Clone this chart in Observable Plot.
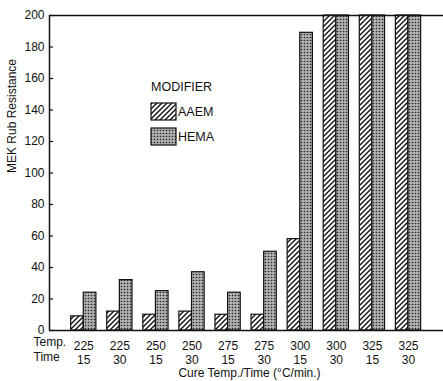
<!DOCTYPE html>
<html>
<head>
<meta charset="utf-8">
<script src="https://cdn.jsdelivr.net/npm/d3@7"></script>
<script src="https://cdn.jsdelivr.net/npm/@observablehq/plot@0.6"></script>
<style>
  html, body { margin: 0; padding: 0; background: #fff; }
  #chart { width: 443px; height: 381px; }
  svg { font-family: "Liberation Sans", Arial, sans-serif; }
</style>
</head>
<body>
<div id="chart"></div>
<script>
const temps = ["225", "225", "250", "250", "275", "275", "300", "300", "325", "325"];
const times = ["15", "30", "15", "30", "15", "30", "15", "30", "15", "30"];
const aaem  = [9, 12, 10, 12, 10, 10, 58, 200, 200, 200];
const hema  = [24, 32, 25, 37, 24, 50, 189, 200, 200, 200];
const yTicks = [0, 20, 40, 60, 80, 100, 120, 140, 160, 180, 200];
const seriesNames = ["AAEM", "HEMA"];

const rows = temps.map((t, i) => ({i, temp: t, time: times[i], aaem: aaem[i], hema: hema[i]}));
const barW = 0.35;
const xDomain = [-0.95, 9.97];
const fs = 12;

const plot = Plot.plot({
  width: 443,
  height: 381,
  marginLeft: 49,
  marginRight: 0,
  marginTop: 15,
  marginBottom: 51,
  style: {fontFamily: "'Liberation Sans', Arial, sans-serif", fontSize: "12px", color: "#111", background: "#fff"},
  x: {type: "linear", domain: xDomain, axis: null},
  y: {domain: [0, 200], axis: null},
  marks: [
    Plot.rectY(rows, {x1: d => d.i - barW, x2: d => d.i, y: "aaem", fill: "url(#hatch)", stroke: "#111", strokeWidth: 1.2}),
    Plot.rectY(rows, {x1: d => d.i, x2: d => d.i + barW, y: "hema", fill: "url(#stipple)", stroke: "#111", strokeWidth: 1.2}),
    Plot.ruleY([200], {stroke: "#111", strokeWidth: 1.5}),
    Plot.ruleY([0], {stroke: "#111", strokeWidth: 1.5}),
    Plot.ruleX([xDomain[0]], {stroke: "#111", strokeWidth: 1.5}),
    Plot.axisY(yTicks, {anchor: "left", tickSize: -4, tickPadding: 9, label: null, fontSize: fs, strokeWidth: 1.2}),
    Plot.text(rows, {x: "i", y: 0, text: "temp", dy: 15.5, fontSize: fs}),
    Plot.text(rows, {x: "i", y: 0, text: "time", dy: 30, fontSize: fs}),
    Plot.text(["Temp."], {frameAnchor: "bottom-left", dx: -16, dy: 15.5, textAnchor: "start", fontSize: fs}),
    Plot.text(["Time"], {frameAnchor: "bottom-left", dx: -16, dy: 30, textAnchor: "start", fontSize: fs}),
    Plot.text(["Cure Temp./Time (°C/min.)"], {frameAnchor: "bottom", dx: 3, dy: 46.5, fontSize: fs}),
    Plot.text(["MEK Rub Resistance"], {frameAnchor: "left", rotate: -90, dx: -37, fontSize: fs})
  ]
});

const svg = d3.select(plot);
const defs = svg.insert("defs", ":first-child");
const hatch = defs.append("pattern").attr("id", "hatch").attr("patternUnits", "userSpaceOnUse").attr("width", 5).attr("height", 5);
hatch.append("rect").attr("width", 5).attr("height", 5).attr("fill", "#fff");
hatch.append("path").attr("d", "M-1,1 l2,-2 M0,5 l5,-5 M4,6 l2,-2").attr("stroke", "#111").attr("stroke-width", 1.4);
const stip = defs.append("pattern").attr("id", "stipple").attr("patternUnits", "userSpaceOnUse").attr("width", 3).attr("height", 3);
stip.append("rect").attr("width", 3).attr("height", 3).attr("fill", "#b0b0b0");
stip.append("circle").attr("cx", 1.5).attr("cy", 1.5).attr("r", 0.8).attr("fill", "#222");

// legend
const lg = svg.append("g").attr("font-size", 12.5).attr("fill", "#111").attr("text-anchor", "start");
lg.append("text").attr("x", 151).attr("y", 91).text("MODIFIER");
const fills = ["url(#hatch)", "url(#stipple)"];
seriesNames.forEach((name, k) => {
  const y0 = 103 + k * 25;
  lg.append("rect").attr("x", 151).attr("y", y0).attr("width", 25).attr("height", 17)
    .attr("fill", fills[k]).attr("stroke", "#111").attr("stroke-width", 1.2);
  lg.append("text").attr("x", 178).attr("y", y0 + 13).text(name);
});

document.getElementById("chart").appendChild(plot);
</script>
</body>
</html>
